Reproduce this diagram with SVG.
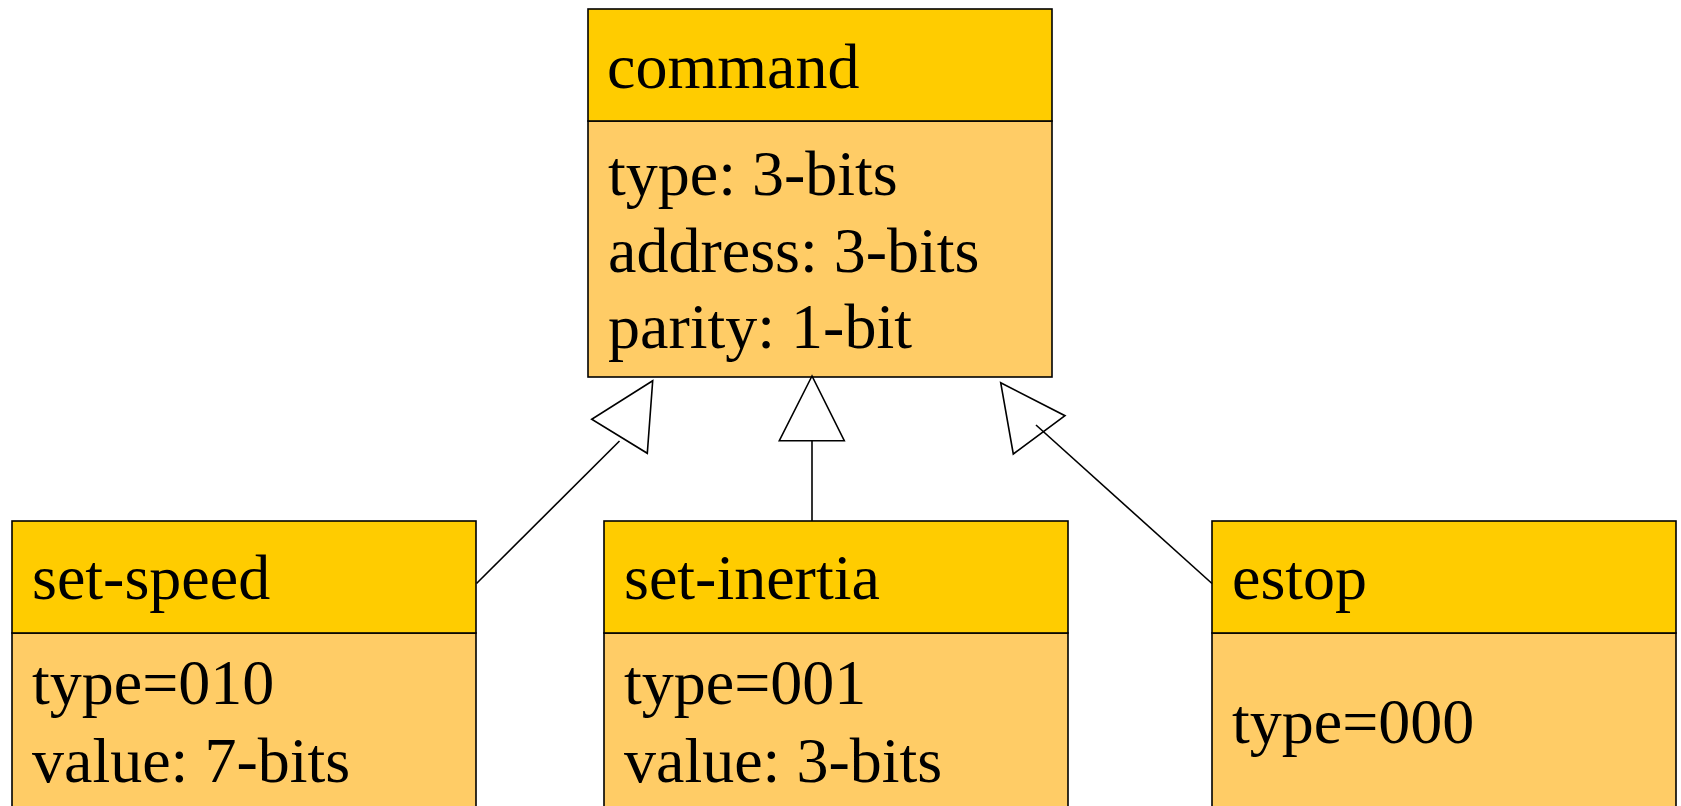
<svg xmlns="http://www.w3.org/2000/svg" width="1681" height="806" viewBox="0 0 1681 806">
<style>
.hd{fill:#FFCC00;stroke:#000;stroke-width:1.6}
.bd{fill:#FFCC66;stroke:#000;stroke-width:1.6}
text{font-family:"Liberation Serif","Times New Roman",serif;font-size:64px;fill:#000}
.cn{fill:none;stroke:#000;stroke-width:1.6}
.tri{fill:#fff;stroke:#000;stroke-width:1.6;stroke-linejoin:miter}
</style>
<rect width="1681" height="806" fill="#fff"/>
<g id="command">
<rect class="bd" x="588" y="121" width="464" height="256"/>
<rect class="hd" x="588" y="9" width="464" height="112"/>
<text x="607" y="88">command</text>
<text x="608" y="195">type: 3-bits</text>
<text x="608" y="272">address: 3-bits</text>
<text x="608" y="348">parity: 1-bit</text>
</g>
<g id="set-speed">
<rect class="bd" x="12" y="633" width="464" height="190"/>
<rect class="hd" x="12" y="521" width="464" height="112"/>
<text x="32" y="599">set-speed</text>
<text x="32" y="704">type=010</text>
<text x="32" y="782">value: 7-bits</text>
</g>
<g id="set-inertia">
<rect class="bd" x="604" y="633" width="464" height="190"/>
<rect class="hd" x="604" y="521" width="464" height="112"/>
<text x="624" y="599">set-inertia</text>
<text x="624" y="704">type=001</text>
<text x="624" y="782">value: 3-bits</text>
</g>
<g id="estop">
<rect class="bd" x="1212" y="633" width="464" height="190"/>
<rect class="hd" x="1212" y="521" width="464" height="112"/>
<text x="1232" y="599">estop</text>
<text x="1232" y="743">type=000</text>
</g>
<g id="connectors">
<line class="cn" x1="619.5" y1="441" x2="476.5" y2="583.5"/>
<polygon class="tri" points="652.7,380.7 591.7,419.3 647.3,453.3"/>
<line class="cn" x1="812" y1="440.7" x2="812" y2="521"/>
<polygon class="tri" points="812,376 779.3,440.7 844.3,440.7"/>
<polygon class="tri" points="1000.7,382.7 1065,415.7 1013.3,454"/>
<line class="cn" x1="1036" y1="425" x2="1212" y2="583.5"/>
</g>
</svg>
